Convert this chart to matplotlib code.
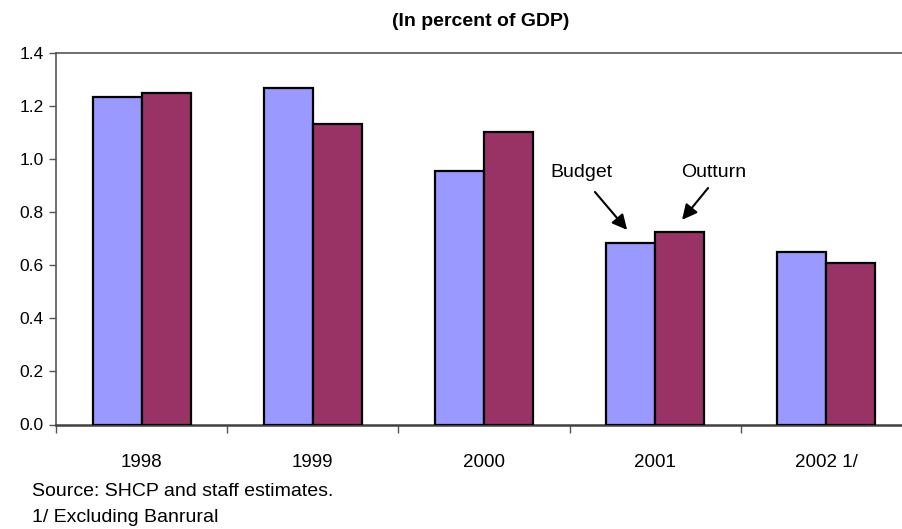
import numpy as np
import matplotlib.pyplot as plt

plt.rcParams['font.family'] = ['Liberation Sans', 'DejaVu Sans']

# Datos: gasto en porcentaje del PIB
years = ["1998", "1999", "2000", "2001", "2002 1/"]
budget = [1.234, 1.268, 0.955, 0.686, 0.652]
outturn = [1.249, 1.132, 1.103, 0.726, 0.609]

BUDGET_COLOR = "#9999FF"
OUTTURN_COLOR = "#993366"


def main():
    fig = plt.figure(figsize=(9.02, 5.29), dpi=100)
    # el area del grafico se sale un poco por la derecha
    ax = fig.add_axes([56 / 902, 1 - 424.5 / 529, 856 / 902, 371.2 / 529])

    x = np.arange(len(years))
    width = 0.286
    ax.bar(x - width / 2, budget, width, color=BUDGET_COLOR, edgecolor="black", linewidth=1.6, zorder=3)
    ax.bar(x + width / 2, outturn, width, color=OUTTURN_COLOR, edgecolor="black", linewidth=1.6, zorder=3)

    ax.set_xlim(-0.5, len(years) - 0.5)
    ax.set_ylim(0, 1.4)
    ax.set_yticks(np.arange(0, 1.41, 0.2))
    ax.set_yticklabels([f"{v:.1f}" for v in np.arange(0, 1.41, 0.2)], fontsize=12.5)

    # marcas del eje x entre categorias, etiquetas centradas sin marca
    ax.set_xticks(np.arange(0, len(years) + 1) - 0.5)
    ax.set_xticklabels([])
    ax.set_xticks(x, minor=True)
    ax.set_xticklabels(years, minor=True, fontsize=13.5)
    ax.tick_params(axis="x", which="minor", length=0, pad=21)
    ax.tick_params(axis="x", which="major", length=6, width=1, color="#555555", direction="out")
    ax.tick_params(axis="y", length=5, width=1, color="#555555", direction="out", pad=4)

    for side in ["left", "bottom", "top"]:
        ax.spines[side].set_color("#555555")
        ax.spines[side].set_linewidth(1.2)
    ax.spines["bottom"].set_linewidth(1.8)
    ax.spines["bottom"].set_color("#404040")
    ax.spines["right"].set_visible(False)

    # etiquetas con flecha para cada serie
    arrow = dict(arrowstyle="-|>,head_length=0.9,head_width=0.45",
                 color="black", lw=1.5, shrinkA=0, shrinkB=0)
    ax.text(2.572, 0.952, "Budget", fontsize=14, ha="center", va="center")
    ax.annotate("", xy=(2.836, 0.734), xytext=(2.648, 0.877), arrowprops=arrow)
    ax.text(3.343, 0.952, "Outturn", fontsize=14, ha="center", va="center")
    ax.annotate("", xy=(3.157, 0.772), xytext=(3.309, 0.892), arrowprops=arrow)

    fig.text(481 / 902, 1 - 21 / 529, "(In percent of GDP)", fontsize=14, fontweight="bold",
             ha="center", va="center")
    fig.text(32 / 902, 1 - 491 / 529, "Source: SHCP and staff estimates.", fontsize=14,
             ha="left", va="center")
    fig.text(32 / 902, 1 - 517 / 529, "1/ Excluding Banrural", fontsize=14,
             ha="left", va="center")

    fig.savefig("out.png", dpi=100)


if __name__ == "__main__":
    main()
